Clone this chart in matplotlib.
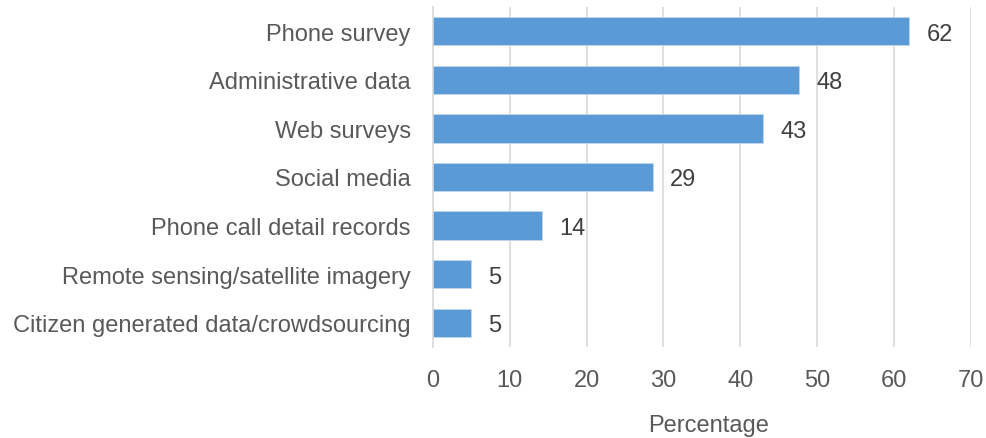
import matplotlib.pyplot as plt
import numpy as np

plt.rcParams['font.family'] = ['Liberation Sans', 'DejaVu Sans']

categories = [
    "Phone survey",
    "Administrative data",
    "Web surveys",
    "Social media",
    "Phone call detail records",
    "Remote sensing/satellite imagery",
    "Citizen generated data/crowdsourcing",
]
values = [62.0, 47.7, 43.0, 28.6, 14.2, 4.9, 4.9]
value_labels = ["62", "48", "43", "29", "14", "5", "5"]
xticks = [0, 10, 20, 30, 40, 50, 60, 70]

text_color = '#595959'
value_color = '#404040'
grid_color = '#D9D9D9'
fs = 17

fig = plt.figure(figsize=(9.87, 4.39), dpi=100)
ax = fig.add_axes([0.4387, 0.2073, 0.5446, 0.7745])

y = np.arange(len(categories))
bars = ax.barh(y, values, height=0.58, color='#5B9BD5', edgecolor='#BDD7EE',
               linewidth=0.6, zorder=3)

# value labels to the right of each bar
for b, lab in zip(bars, value_labels):
    ax.annotate(lab, xy=(b.get_width(), b.get_y() + b.get_height() / 2),
                xytext=(12.5, 0), textcoords='offset points',
                va='center_baseline', ha='left', fontsize=fs, color=value_color)

ax.set_yticks(y)
ax.set_yticklabels(categories)
ax.set_ylim(len(categories) - 0.5, -0.5)
ax.set_xlim(0, 70)
ax.set_xticks(xticks)

ax.grid(axis='x', color=grid_color, linewidth=1.2, zorder=0)
ax.set_axisbelow(True)
for s in ['top', 'right', 'bottom']:
    ax.spines[s].set_visible(False)
ax.spines['left'].set_color(grid_color)
ax.spines['left'].set_linewidth(1.2)

ax.tick_params(axis='both', length=0, labelsize=fs, labelcolor=text_color)
ax.tick_params(axis='y', pad=16)
ax.tick_params(axis='x', pad=16)

ax.set_xlabel("Percentage", fontsize=fs, color=text_color)
ax.xaxis.set_label_coords(0.512, -0.197)

plt.savefig("out.png", dpi=100)
